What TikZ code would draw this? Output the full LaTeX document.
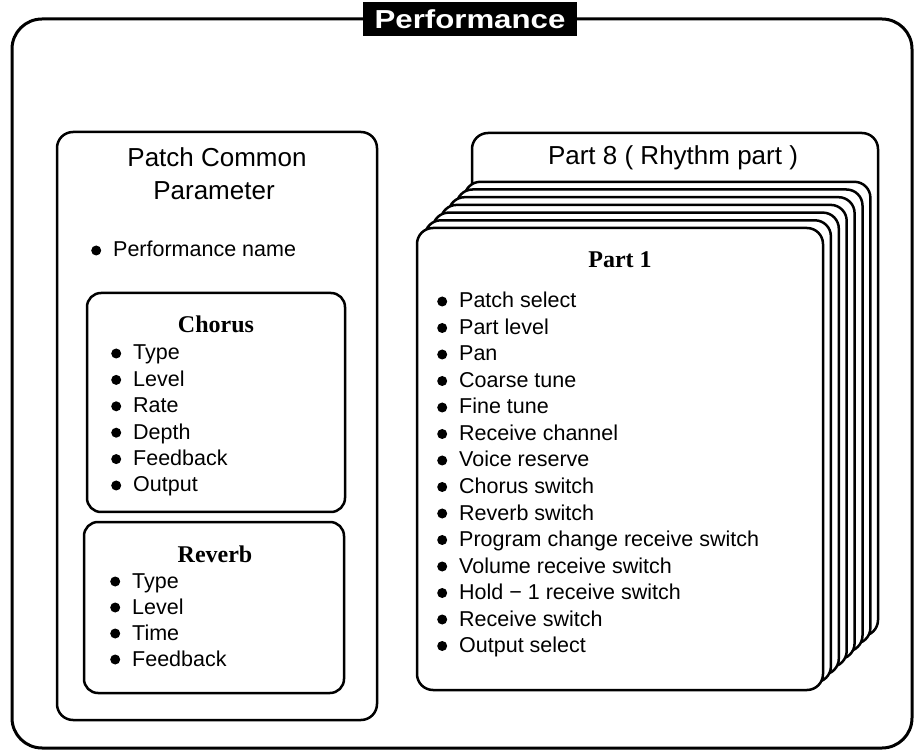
\documentclass[tikz,border=0pt]{standalone}
\usepackage{fontspec}
\setmainfont{Liberation Sans}
\newfontfamily\headserif{Liberation Serif}
\usepackage{graphicx}

% bullet in front of each parameter
\newcommand{\dotmark}{\makebox[22pt][l]{\tikz[baseline=0pt]\fill (5pt,6.5pt) circle (5pt);}}

\begin{document}
\begin{tikzpicture}[x=1pt, y=-1pt,
        % Define the styles for frames, cards and texts
        frame/.style={line width=3pt, rounded corners=30pt},
        box/.style={line width=2.5pt, rounded corners=16pt},
        card/.style={line width=2.5pt, rounded corners=16pt, fill=white},
        head/.style={font=\fontsize{26}{30}\selectfont, inner sep=0pt, anchor=base},
        subhead/.style={font=\headserif\bfseries\fontsize{24}{28}\selectfont, inner sep=0pt, anchor=base},
        entry/.style={font=\fontsize{21.5}{26}\selectfont, inner sep=0pt, anchor=base west,
                      text height=15.5pt, text depth=4.5pt}]

        \useasboundingbox (0,0) rectangle (914,751);

        % 1. Outer frame with its title
        \draw[frame] (12,19) rectangle (912,748);
        \node[fill=black, text=white, font=\bfseries\fontsize{26}{30}\selectfont,
              minimum width=214pt, minimum height=34pt, inner sep=0pt] (perf) at (470,19)
              {\scalebox{1.2}[1]{Performance}};

        % 2. Patch common parameter (left)
        \draw[box] (57,132) rectangle (377,720);
        \node[head] (pcp1) at (217,167) {Patch Common};
        \node[head] (pcp2) at (214,200) {Parameter};
        \node[entry] (pname) at (91,257) {\dotmark Performance name};

        % 3. Chorus box
        \draw[box, rounded corners=14pt] (87,293) rectangle (345,512);
        \node[subhead] (chorus) at (216,333) {Chorus};
        \node[entry] (ch1) at (111,360) {\dotmark Type};
        \node[entry] (ch2) at (111,386.4) {\dotmark Level};
        \node[entry] (ch3) at (111,412.8) {\dotmark Rate};
        \node[entry] (ch4) at (111,439.2) {\dotmark Depth};
        \node[entry] (ch5) at (111,465.6) {\dotmark Feedback};
        \node[entry] (ch6) at (111,492) {\dotmark Output};

        % 4. Reverb box
        \draw[box, rounded corners=14pt] (84,522) rectangle (344,693);
        \node[subhead] (reverb) at (215,562) {Reverb};
        \node[entry] (rv1) at (110,588) {\dotmark Type};
        \node[entry] (rv2) at (110,614) {\dotmark Level};
        \node[entry] (rv3) at (110,640) {\dotmark Time};
        \node[entry] (rv4) at (110,666) {\dotmark Feedback};

        % 5. Stack of parts: Part 8 at the back, Part 1 in front
        \draw[card] (472,133) rectangle (878,636);
        \node[head] (part8) at (673,165) {Part 8 ( Rhythm part )};
        \draw[card] (464.4,181.8) rectangle (870.4,643.8);
        \draw[card] (456.5,189.5) rectangle (862.5,651.5);
        \draw[card] (448.6,197.2) rectangle (854.6,659.2);
        \draw[card] (440.7,204.9) rectangle (846.7,666.9);
        \draw[card] (432.8,212.6) rectangle (838.8,674.6);
        \draw[card] (424.9,220.3) rectangle (830.9,682.3);
        \draw[card] (417,228) rectangle (823,690);

        % 6. Part 1 parameters
        \node[subhead] (part1) at (620,268) {Part 1};
        \node[entry] (p1) at (437,308) {\dotmark Patch select};
        \node[entry] (p2) at (437,334.5) {\dotmark Part level};
        \node[entry] (p3) at (437,361) {\dotmark Pan};
        \node[entry] (p4) at (437,387.5) {\dotmark Coarse tune};
        \node[entry] (p5) at (437,414) {\dotmark Fine tune};
        \node[entry] (p6) at (437,440.5) {\dotmark Receive channel};
        \node[entry] (p7) at (437,467) {\dotmark Voice reserve};
        \node[entry] (p8) at (437,493.5) {\dotmark Chorus switch};
        \node[entry] (p9) at (437,520) {\dotmark Reverb switch};
        \node[entry] (p10) at (437,546.5) {\dotmark Program change receive switch};
        \node[entry] (p11) at (437,573) {\dotmark Volume receive switch};
        \node[entry] (p12) at (437,599.5) {\dotmark Hold − 1 receive switch};
        \node[entry] (p13) at (437,626) {\dotmark Receive switch};
        \node[entry] (p14) at (437,652.5) {\dotmark Output select};

    \end{tikzpicture}
\end{document}
